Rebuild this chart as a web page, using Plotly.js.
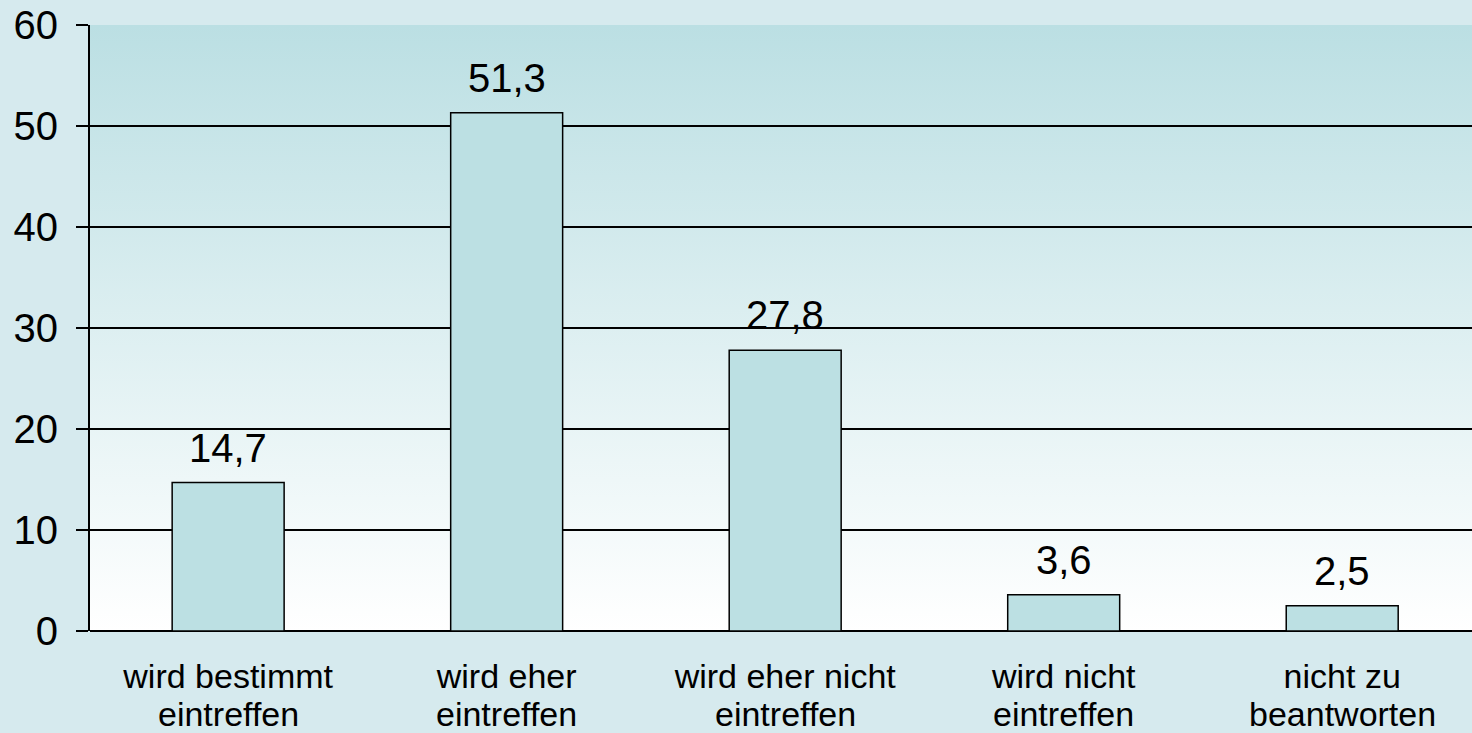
<!DOCTYPE html>
<html>
<head>
<meta charset="utf-8">
<script src="https://cdn.plot.ly/plotly-3.0.1.min.js"></script>
<style>
  html, body { margin: 0; padding: 0; background: #d6eaee; }
  #plotDiv { width: 1472px; height: 733px; }
</style>
</head>
<body>
<div id="plotDiv"></div>
<script>
var catLine1 = ['wird bestimmt', 'wird eher', 'wird eher nicht', 'wird nicht', 'nicht zu'];
var catLine2 = ['eintreffen', 'eintreffen', 'eintreffen', 'eintreffen', 'beantworten'];
var values = [14.7, 51.3, 27.8, 3.6, 2.5];
var yTicks = [0, 10, 20, 30, 40, 50, 60];

var pos = catLine1.map(function (c, i) { return i; });

// vertical gradient for the plot area, light teal at top fading to white
var grad = '<svg xmlns="http://www.w3.org/2000/svg" width="10" height="100" preserveAspectRatio="none">' +
  '<defs><linearGradient id="g" x1="0" y1="0" x2="0" y2="1">' +
  '<stop offset="0" stop-color="#bbdfe3"/><stop offset="1" stop-color="#ffffff"/>' +
  '</linearGradient></defs><rect width="10" height="100" fill="url(#g)"/></svg>';
var gradUrl = 'data:image/svg+xml;charset=utf-8,' + encodeURIComponent(grad);

var bars = {
  type: 'bar',
  x: pos,
  y: values,
  width: 0.402,
  marker: {color: '#bce0e3', line: {color: '#000000', width: 1.5}},
  hoverinfo: 'skip'
};

function fmt(v) { return String(v).replace('.', ','); }

var annotations = [];
values.forEach(function (v, i) {
  annotations.push({
    x: i, y: v, xref: 'x', yref: 'y',
    text: fmt(v), showarrow: false,
    yanchor: 'bottom', yshift: 11,
    font: {family: 'Liberation Sans, Arial, sans-serif', size: 40, color: '#000'}
  });
});
catLine2.forEach(function (c, i) {
  annotations.push({
    x: i, y: 0, xref: 'x', yref: 'paper',
    text: c, showarrow: false,
    yanchor: 'top', yshift: -62,
    font: {family: 'Liberation Sans, Arial, sans-serif', size: 34, color: '#000'}
  });
});

var layout = {
  width: 1472,
  height: 733,
  margin: {l: 90, r: 0, t: 25, b: 102},
  paper_bgcolor: '#d6eaee',
  plot_bgcolor: 'rgba(0,0,0,0)',
  showlegend: false,
  font: {family: 'Liberation Sans, Arial, sans-serif', color: '#000'},
  images: [{
    source: gradUrl, xref: 'paper', yref: 'paper',
    x: 0, y: 1, sizex: 1, sizey: 1,
    xanchor: 'left', yanchor: 'top', sizing: 'stretch', layer: 'below'
  }],
  xaxis: {
    range: [-0.496, 4.466],
    tickmode: 'array',
    tickvals: pos,
    ticktext: catLine1,
    ticks: '',
    showgrid: false,
    zeroline: false,
    showline: false,
    ticklabelstandoff: 22,
    tickfont: {size: 34}
  },
  yaxis: {
    range: [0, 60],
    tickmode: 'array',
    tickvals: yTicks,
    ticks: 'outside',
    ticklen: 12,
    tickwidth: 1.5,
    tickcolor: '#000',
    showline: true,
    linecolor: '#000',
    linewidth: 2,
    showgrid: true,
    gridcolor: '#000',
    gridwidth: 1.5,
    zeroline: true,
    zerolinecolor: '#000',
    zerolinewidth: 2,
    ticklabelstandoff: 10,
    tickfont: {size: 40}
  },
  annotations: annotations
};

Plotly.newPlot('plotDiv', [bars], layout, {displayModeBar: false, staticPlot: true});
</script>
</body>
</html>
